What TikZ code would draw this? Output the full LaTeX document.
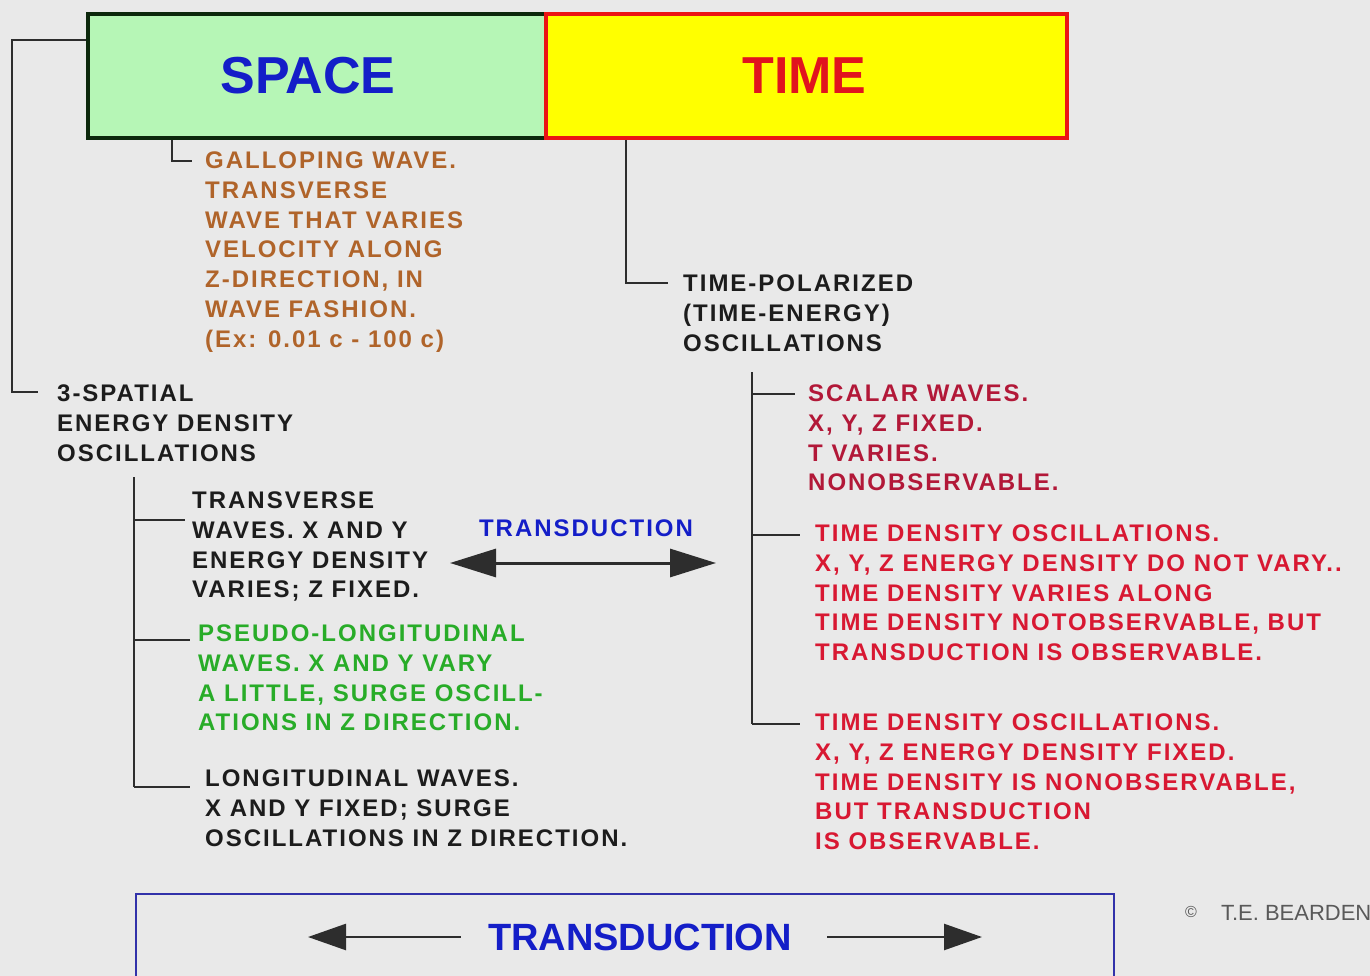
\documentclass[tikz,border=0pt]{standalone}
\usepackage{fontspec}
\setmainfont{Liberation Sans}
\newfontfamily\lab[LetterSpace=8.3]{Liberation Sans}
\usetikzlibrary{arrows.meta}
\definecolor{bg}{RGB}{233,233,233}
\definecolor{spacegreen}{RGB}{182,246,182}
\definecolor{spaceedge}{RGB}{12,40,12}
\definecolor{timeyellow}{RGB}{255,255,0}
\definecolor{timeedge}{RGB}{235,20,20}
\definecolor{bigblue}{RGB}{20,30,200}
\definecolor{bigred}{RGB}{225,20,30}
\definecolor{brownt}{RGB}{176,100,42}
\definecolor{blackt}{RGB}{28,28,28}
\definecolor{greent}{RGB}{40,172,40}
\definecolor{redt}{RGB}{216,24,50}
\definecolor{darkred}{RGB}{178,24,56}
\definecolor{linegray}{RGB}{45,45,45}
\definecolor{navy}{RGB}{50,50,170}
\begin{document}
\begin{tikzpicture}[x=1pt,y=-1pt,
  lbl/.style={anchor=north west, inner sep=0pt, align=left,
    font=\lab\bfseries\fontsize{24}{29.8}\selectfont},
  conn/.style={draw=linegray, line width=2pt},
  bigbox/.style={line width=4pt, minimum height=124pt, inner sep=0pt,
    font=\bfseries\fontsize{52}{52}\selectfont},
  dbl/.style={line width=3pt, draw=linegray,
    {Triangle[length=46pt,width=28pt]}-{Triangle[length=46pt,width=28pt]}},
  sgl/.style={line width=2.5pt, draw=linegray, -{Triangle[length=38pt,width=26pt]}}
]
\path[use as bounding box] (0,0) rectangle (1370,976);
\path[clip] (0,0) rectangle (1370,976);
\fill[bg] (0,0) rectangle (1370,976);

% top boxes
\node[bigbox, draw=spaceedge, fill=spacegreen, minimum width=458pt, text=bigblue]
  (space) at (317,76) {\hspace*{-18pt}SPACE};
\node[bigbox, draw=timeedge, fill=timeyellow, minimum width=521pt, text=bigred]
  (time) at (806.5,76) {\hspace*{-4pt}TIME};

% text blocks
\node[lbl, text=brownt] (gallop) at (205,151.5)
  {GALLOPING WAVE.\\TRANSVERSE\\WAVE THAT VARIES\\VELOCITY ALONG\\Z-DIRECTION, IN\\WAVE FASHION.\\(Ex: 0.01 c - 100 c)};
\node[lbl, text=blackt] (tpol) at (683,274.5)
  {TIME-POLARIZED\\(TIME-ENERGY)\\OSCILLATIONS};
\node[lbl, text=blackt] (spatial) at (57,384.5)
  {3-SPATIAL\\ENERGY DENSITY\\OSCILLATIONS};
\node[lbl, text=blackt] (transv) at (192,491.5)
  {TRANSVERSE\\WAVES. X AND Y\\ENERGY DENSITY\\VARIES; Z FIXED.};
\node[lbl, text=greent] (pseudo) at (198,624.5)
  {PSEUDO-LONGITUDINAL\\WAVES. X AND Y VARY\\A LITTLE, SURGE OSCILL-\\ATIONS IN Z DIRECTION.};
\node[lbl, text=blackt] (longit) at (205,769.5)
  {LONGITUDINAL WAVES.\\X AND Y FIXED; SURGE\\OSCILLATIONS IN Z DIRECTION.};
\node[lbl, text=darkred] (scalar) at (808,384.5)
  {SCALAR WAVES.\\X, Y, Z FIXED.\\T VARIES.\\NONOBSERVABLE.};
\node[lbl, text=redt] (tdone) at (815,524.5)
  {TIME DENSITY OSCILLATIONS.\\X, Y, Z ENERGY DENSITY DO NOT VARY..\\TIME DENSITY VARIES ALONG\\TIME DENSITY NOTOBSERVABLE, BUT\\TRANSDUCTION IS OBSERVABLE.};
\node[lbl, text=redt] (tdtwo) at (815,713.5)
  {TIME DENSITY OSCILLATIONS.\\X, Y, Z ENERGY DENSITY FIXED.\\TIME DENSITY IS NONOBSERVABLE,\\BUT TRANSDUCTION\\IS OBSERVABLE.};

% connectors
\draw[conn] (space.west |- 0,40) -- (12,40) |- ([xshift=-19pt]spatial.west |- 0,392);
\draw[conn] (space.south -| 172,0) |- ([xshift=-13pt]gallop.west |- 0,161);
\draw[conn] (time.south -| 626,0) |- ([xshift=-15pt]tpol.west |- 0,283);
\draw[conn] (134,477) -- (134,787);
\draw[conn] (134,520) -- ([xshift=-7pt]transv.west |- 0,520);
\draw[conn] (134,640) -- ([xshift=-8pt]pseudo.west |- 0,640);
\draw[conn] (134,787) -- ([xshift=-15pt]longit.west |- 0,787);
\draw[conn] (752,372) -- (752,724);
\draw[conn] (752,394) -- ([xshift=-13pt]scalar.west |- 0,394);
\draw[conn] (752,535) -- ([xshift=-15pt]tdone.west |- 0,535);
\draw[conn] (752,724) -- ([xshift=-15pt]tdtwo.west |- 0,724);

% middle transduction
\node[inner sep=0pt, text=bigblue, font=\lab\bfseries\fontsize{24}{24}\selectfont]
  (mtrans) at (586,528) {TRANSDUCTION};
\coordinate (ml) at (450,563);
\coordinate (mr) at (716,563);
\draw[dbl] (ml) -- (mr);

% bottom box
\draw[navy, line width=2pt, fill=bg] (136,894) rectangle (1114,990);
\node[inner sep=0pt, text=bigblue, font=\bfseries\fontsize{38}{38}\selectfont]
  (btrans) at (640,937) {TRANSDUCTION};
\coordinate (bl) at (308,937);
\coordinate (br) at (982,937);
\draw[sgl] ([xshift=-27pt]btrans.west) -- (bl);
\draw[sgl] ([xshift=35pt]btrans.east) -- (br);

% copyright
\node[anchor=west, inner sep=0pt, text=black!65, font=\fontsize{22}{22}\selectfont]
  (copy) at (1185,913) {{\fontsize{16}{16}\selectfont\raisebox{3pt}{\textcopyright}}\hspace{24pt}T.E. BEARDEN};
\end{tikzpicture}
\end{document}
